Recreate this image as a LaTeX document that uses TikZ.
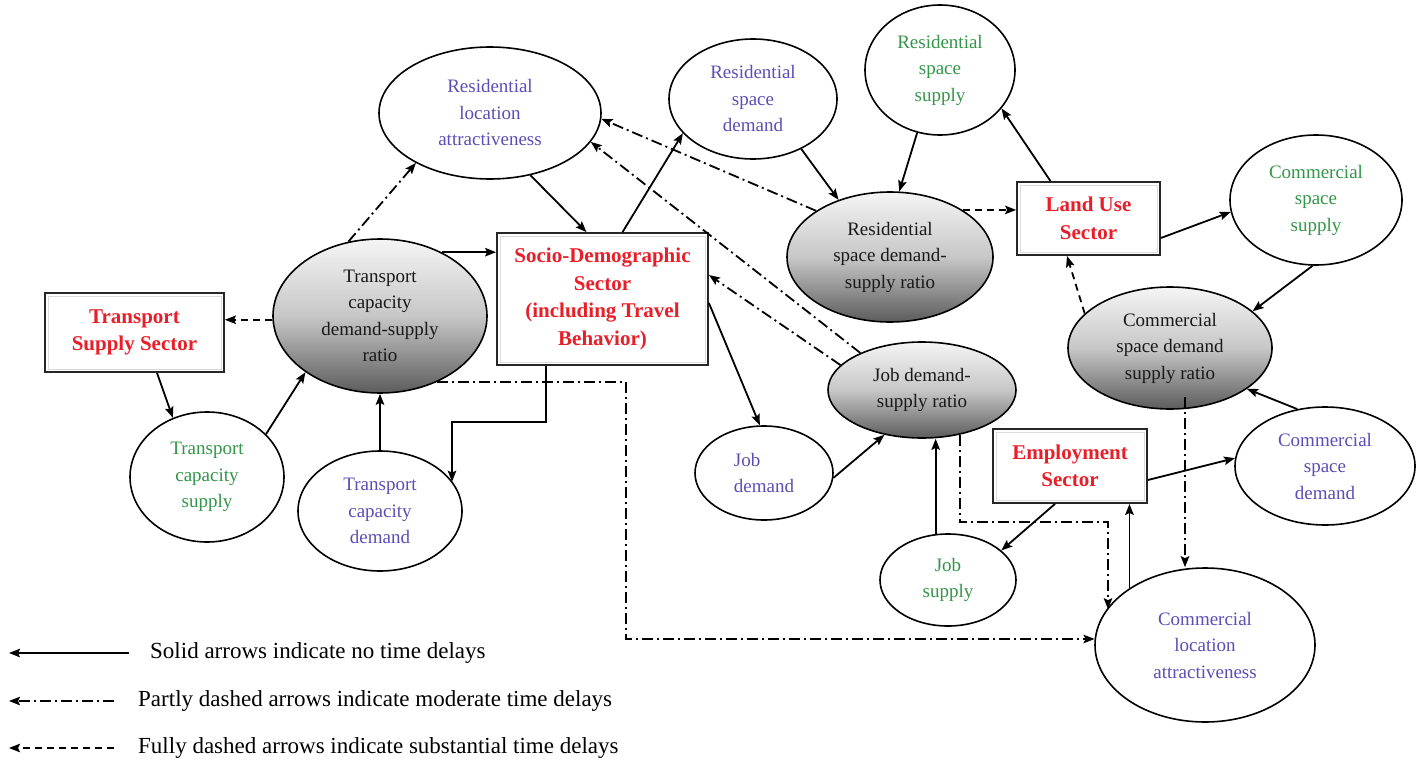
\documentclass[tikz,border=0pt]{standalone}
\usepackage{fontspec}
\setmainfont{Liberation Serif}
\usetikzlibrary{shapes.geometric,arrows.meta,calc}

\definecolor{sectorred}{RGB}{232,30,40}
\definecolor{varblue}{RGB}{92,78,182}
\definecolor{vargreen}{RGB}{52,150,72}

\tikzset{
  var/.style={ellipse, draw=black, line width=1.6pt, inner sep=0pt, align=center,
    font=\fontsize{19}{26.5}\selectfont},
  demandvar/.style={var, text=varblue},
  supplyvar/.style={var, text=vargreen},
  ratiovar/.style={var, top color=black!4, bottom color=black!64, middle color=black!22, text=black!90},
  sector/.style={draw=black!85, line width=1.8pt, align=center, text=sectorred, inner sep=0pt,
    font=\fontsize{21}{27.5}\selectfont\bfseries,
    path picture={\draw[black!14, line width=0.5pt]
      ([shift={(3pt,-3pt)}]path picture bounding box.north west) rectangle
      ([shift={(-3pt,3pt)}]path picture bounding box.south east);}},
  legendtext/.style={inner sep=0pt, anchor=west, font=\fontsize{23}{28}\selectfont},
  link/.style={line width=1.8pt, -{Stealth[length=11pt,width=8.5pt,inset=2pt]}},
  nodelay/.style={link},
  moddelay/.style={link, dash pattern=on 11pt off 4pt on 2pt off 4pt},
  subdelay/.style={link, dash pattern=on 7pt off 5pt},
}

\begin{document}
\begin{tikzpicture}[x=1pt,y=-1pt]
\fill[white] (0,0) rectangle (1421,765);
\useasboundingbox (0,0) rectangle (1421,765);

% ---- sectors ----
\node[sector, minimum width=179pt, minimum height=79pt] (TSS) at (134.5,332.5) {Transport\\Supply Sector};
\node[sector, minimum width=211pt, minimum height=132pt] (SOC) at (602.5,299) {Socio-Demographic\\Sector\\(including Travel\\Behavior)};
\node[sector, minimum width=143pt, minimum height=73pt] (LUS) at (1088.5,218.5) {Land Use\\Sector};
\node[sector, minimum width=154pt, minimum height=74pt] (EMP) at (1070,466) {Employment\\Sector};

% ---- transport variables ----
\node[ratiovar, minimum width=214pt, minimum height=154pt] (TR) at (380,316) {Transport\\capacity\\demand-supply\\ratio};
\node[supplyvar, minimum width=154pt, minimum height=130pt] (TCS) at (207,477) {Transport\\capacity\\supply};
\node[demandvar, minimum width=164pt, minimum height=120pt] (TCD) at (380,511) {Transport\\capacity\\demand};

% ---- residential variables ----
\node[demandvar, minimum width=222pt, minimum height=132pt] (RLA) at (490,113) {Residential\\location\\attractiveness};
\node[demandvar, minimum width=168pt, minimum height=120pt] (RSD) at (753,99) {Residential\\space\\demand};
\node[supplyvar, minimum width=150pt, minimum height=130pt] (RSS) at (940,70) {Residential\\space\\supply};
\node[ratiovar, minimum width=206pt, minimum height=130pt] (RR) at (890,257) {Residential\\space demand-\\supply ratio};

% ---- job variables ----
\node[ratiovar, minimum width=188pt, minimum height=96pt] (JR) at (922,390) {Job demand-\\supply ratio};
\node[demandvar, minimum width=138pt, minimum height=94pt, align=left] (JD) at (764,473) {Job\\demand};
\node[supplyvar, minimum width=136pt, minimum height=92pt] (JS) at (948,580) {Job\\supply};

% ---- commercial variables ----
\node[supplyvar, minimum width=172pt, minimum height=130pt] (CSS) at (1316,200) {Commercial\\space\\supply};
\node[ratiovar, minimum width=204pt, minimum height=122pt] (CR) at (1170,348) {Commercial\\space demand\\supply ratio};
\node[demandvar, minimum width=180pt, minimum height=118pt] (CSD) at (1325,466) {Commercial\\space\\demand};
\node[demandvar, minimum width=220pt, minimum height=154pt] (CLA) at (1205,645) {Commercial\\location\\attractiveness};

% ---- turning points of the elbow connectors ----
\coordinate (socturn) at (452,422);
\coordinate (bigturn) at (626,639);
\coordinate (jrturn) at (1108,522);
\coordinate (crdrop) at ([xshift=15pt,yshift=13pt]CR.south);

% ---- transport loop ----
\draw[subdelay] (TR.182) -- (TR.182 -| TSS.east);
\draw[nodelay] ([xshift=22.5pt]TSS.south) -- (TCS.120);
\draw[nodelay] (TCS.36) -- (TR.217);
\draw[nodelay] (TCD.north) -- (TR.south);
\draw[nodelay] (TR.46) -- (TR.46 -| SOC.west);
\draw[moddelay] (TR.113) -- (RLA.214);
\draw[nodelay] ([xshift=-56.5pt]SOC.south) |- (socturn) -- (socturn |- TCD.22);
\draw[moddelay] (TR.-49) -| (bigturn) -- (bigturn -| CLA.177);

% ---- residential loop ----
\draw[nodelay] (RLA.-57) -- ([xshift=-16pt]SOC.north);
\draw[nodelay] ([xshift=20pt]SOC.north) -- (RSD.206);
\draw[nodelay] (RSD.-46) -- (RR.132);
\draw[nodelay] (RSS.-110) -- (RR.82);
\draw[nodelay] ([xshift=-38pt]LUS.north) -- (RSS.-32);
\draw[subdelay] (RR.33) -- (RR.33 -| LUS.west);
\draw[moddelay] (RR.148) -- (RLA.-3);

% ---- job loop ----
\draw[moddelay] (JR.149) -- (RLA.-16);
\draw[moddelay] (JR.163) -- ([yshift=24pt]SOC.east);
\draw[nodelay] ([yshift=-4pt]SOC.east) -- (JD.95);
\draw[nodelay] (JD.-4) -- (JR.-130);
\draw[nodelay] (JS.105) -- (JS.105 |- JR.south);
\draw[nodelay] ([xshift=-15pt]EMP.south) -- (JS.29);
\draw[moddelay] (JR.-50) |- (jrturn) -- (jrturn |- CLA.160);

% ---- commercial loop ----
\draw[nodelay] ([yshift=-19.5pt]LUS.east) -- (CSS.188);
\draw[nodelay] (CSS.-93) -- (CR.24);
\draw[nodelay] (CSD.116) -- (CR.-28);
\draw[subdelay] (CR.158) -- ([xshift=-21.5pt]LUS.south);
\draw[moddelay] (crdrop) -- (crdrop |- CLA.north);
\draw[nodelay] ([yshift=-14pt]EMP.east) -- (CSD.175);
\draw[nodelay] (CLA.143) -- (CLA.143 |- EMP.south);

% ---- legend ----
\coordinate (lgAfrom) at (129,653);
\coordinate (lgAto) at (9,653);
\coordinate (lgBfrom) at (114,701);
\coordinate (lgBto) at (9,701);
\coordinate (lgCfrom) at (114,748);
\coordinate (lgCto) at (9,748);
\draw[nodelay] (lgAfrom) -- (lgAto);
\draw[moddelay] (lgBfrom) -- (lgBto);
\draw[subdelay] (lgCfrom) -- (lgCto);
\node[legendtext] (lgA) at (150,653) {Solid arrows indicate no time delays};
\node[legendtext] (lgB) at (138,701) {Partly dashed arrows indicate moderate time delays};
\node[legendtext] (lgC) at (138,748) {Fully dashed arrows indicate substantial time delays};
\end{tikzpicture}
\end{document}
